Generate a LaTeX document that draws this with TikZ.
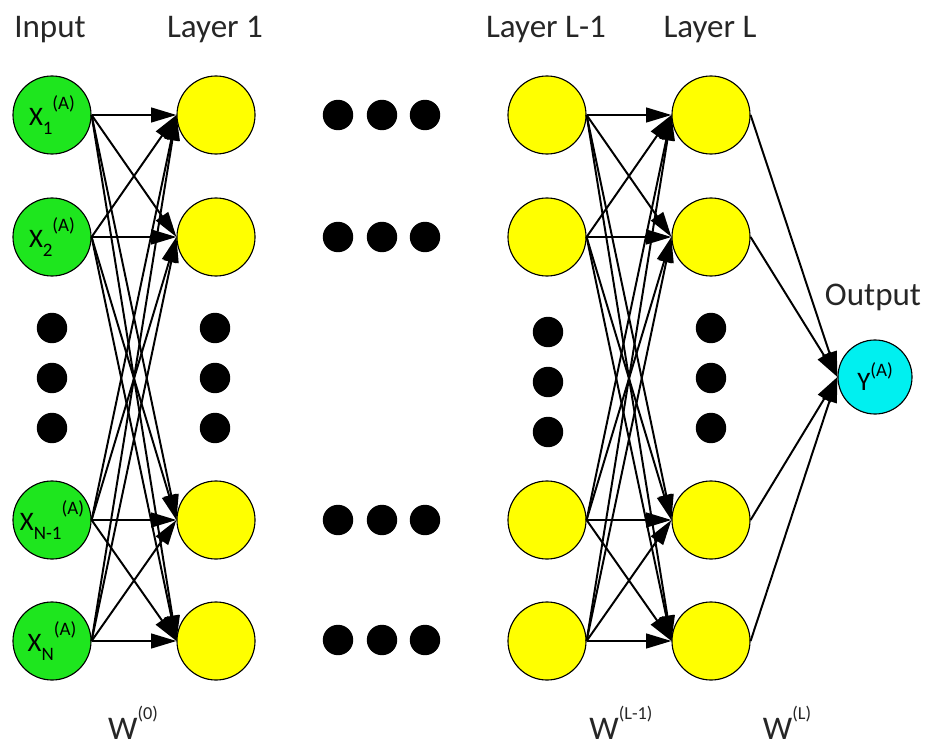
\documentclass[tikz,border=0pt]{standalone}
\usepackage{fontspec}
\setmainfont{Carlito}
\usetikzlibrary{arrows.meta}

\definecolor{ingreen}{RGB}{30,230,30}
\definecolor{hidyellow}{RGB}{255,255,0}
\definecolor{outcyan}{RGB}{0,240,240}

\newcommand{\labfont}{\fontsize{23.5}{28}\selectfont}
\newcommand{\nodefont}{\fontsize{19}{22}\selectfont}
\newcommand{\supfont}{\fontsize{13.5}{15}\selectfont}
\newcommand{\wsupfont}{\fontsize{13}{15}\selectfont}
% X with index below and (A) above
\newcommand{\xin}[1]{X\raisebox{-0.7ex}{\supfont #1}\raisebox{1.3ex}{\supfont(A)}}
\newcommand{\wlab}[1]{W\raisebox{1.25ex}{\wsupfont(#1)}}

\tikzset{
  neuron/.style={circle,draw=black,line width=0.8pt,minimum size=1.95cm,inner sep=0pt,font=\nodefont},
  inneuron/.style={neuron,fill=ingreen},
  hidneuron/.style={neuron,fill=hidyellow},
  outneuron/.style={neuron,fill=outcyan,minimum size=1.85cm},
  toplab/.style={anchor=base,text=black!85,font=\labfont,inner sep=0pt},
  link/.style={line width=1.4pt,-{Triangle[length=18pt,width=10.5pt]}}
}

\begin{document}
\begin{tikzpicture}[x=0.025cm,y=-0.025cm]
\useasboundingbox (0,0) rectangle (927,748);

% headings
\node[toplab] (tinput) at (50,38) {Input};
\node[toplab] (tlone)  at (215,38) {Layer 1};
\node[toplab] (tlm)    at (546,38) {Layer L-1};
\node[toplab] (tll)    at (710,38) {Layer L};
\node[toplab] (tout)   at (873,305) {Output};

% input layer
\node[inneuron] (in1) at (52,115) {\xin{1}};
\node[inneuron] (in2) at (52,237) {\xin{2}};
\node[inneuron] (in3) at (52,520) {\xin{N-1}};
\node[inneuron] (in4) at (52,641) {\xin{N}};

% layer 1
\node[hidneuron] (lone1) at (216,115) {};
\node[hidneuron] (lone2) at (216,237) {};
\node[hidneuron] (lone3) at (216,520) {};
\node[hidneuron] (lone4) at (216,641) {};

% layer L-1
\node[hidneuron] (lm1) at (547,115) {};
\node[hidneuron] (lm2) at (547,237) {};
\node[hidneuron] (lm3) at (547,520) {};
\node[hidneuron] (lm4) at (547,641) {};

% layer L
\node[hidneuron] (ll1) at (711,115) {};
\node[hidneuron] (ll2) at (711,237) {};
\node[hidneuron] (ll3) at (711,520) {};
\node[hidneuron] (ll4) at (711,641) {};

% output
\node[outneuron] (out) at (875,377) {Y\raisebox{1.1ex}{\supfont(A)}};

% weights
\foreach \i in {1,...,4}
  \foreach \j in {1,...,4}
    {\draw[link] (in\i.east) -- (lone\j.west);
     \draw[link] (lm\i.east) -- (ll\j.west);}
\foreach \j in {1,...,4}
  \draw[link] (ll\j.east) -- (out.west);

% dots between layers
\foreach \y in {115,237,520,640}
  \foreach \x in {338,382,425}
    \fill (\x,\y) circle[radius=0.38cm];
% dots down the columns
\foreach \y in {328,378,428}
  {\fill (52,\y)  circle[radius=0.38cm];
   \fill (215,\y) circle[radius=0.38cm];
   \fill (711,\y) circle[radius=0.38cm];}
\foreach \y in {332,382,432}
  \fill (548,\y) circle[radius=0.38cm];

% weight labels
\node[toplab] (wzero) at (133,739) {\wlab{0}};
\node[toplab] (wlm)   at (621,739) {\wlab{L-1}};
\node[toplab] (wl)    at (787,739) {\wlab{L}};
\end{tikzpicture}
\end{document}
